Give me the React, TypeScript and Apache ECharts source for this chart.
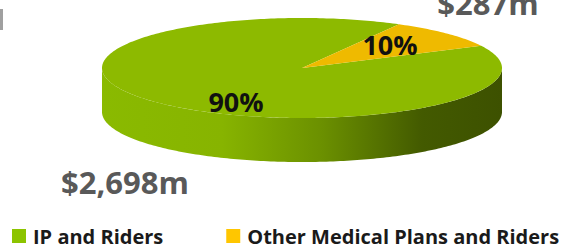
import React, { useEffect, useRef } from "react";
import * as echarts from "echarts";

// ---- data ----
const categories = ["IP and Riders", "Other Medical Plans and Riders"];
const values = [2698, 287];
const percentLabels = ["90%", "10%"];
const amountLabels = ["$2,698m", "$287m"];

// ---- styles / layout ----
const topColors = ["#8DBA00", "#EFBA00"];
const legendColors = ["#8CC400", "#FFC600"];
const CX = 302;
const CY = 68;
const RX = 200;
const RY = 50;
const DEPTH = 44;
const START_ANGLE = 61; // degrees, counter-clockwise
const percentPos = [
  [236, 101],
  [390, 44],
];
const amountPos = [
  [125, 182],
  [488, 3],
];
const FONT = "'Open Sans', 'DejaVu Sans', sans-serif";

function pt(a: number, dy = 0): number[] {
  const r = (a * Math.PI) / 180;
  return [CX + RX * Math.cos(r), CY - RY * Math.sin(r) + dy];
}

function arc(a0: number, a1: number, dy = 0): number[][] {
  const pts: number[][] = [];
  const n = Math.max(2, Math.ceil(Math.abs(a1 - a0) / 1));
  for (let k = 0; k <= n; k++) pts.push(pt(a0 + ((a1 - a0) * k) / n, dy));
  return pts;
}

const total = values.reduce((s, v) => s + v, 0);

function makeRenderItem(i: number) {
  return (params: any, api: any) => {
    const v = api.value(0);
    let before = 0;
    for (let k = 0; k < i; k++) before += values[k];
    const a0 = START_ANGLE + (before / total) * 360;
    const a1 = a0 + (v / total) * 360;
    const children: any[] = [];
    // side (front half only)
    for (const s of [180, 540]) {
      const lo = Math.max(a0, s);
      const hi = Math.min(a1, s + 180);
      if (hi > lo) {
        const pts = [...arc(lo, hi), ...arc(hi, lo, DEPTH)];
        children.push({
          type: "polygon",
          shape: { points: pts },
          style: {
            fill: new echarts.graphic.LinearGradient(0, 0, 1, 0, [
              { offset: 0, color: "#8ABA00" },
              { offset: 0.3, color: "#87B400" },
              { offset: 0.55, color: "#6B9000" },
              { offset: 0.8, color: "#435A00" },
              { offset: 1, color: "#3D5100" },
            ]),
          },
        });
      }
    }
    // top face
    children.push({
      type: "polygon",
      shape: { points: [[CX, CY], ...arc(a0, a1)] },
      style: { fill: topColors[i] },
    });
    // labels
    children.push({
      type: "text",
      x: percentPos[i][0],
      y: percentPos[i][1],
      style: {
        text: percentLabels[i],
        fill: "#111111",
        fontSize: 27,
        fontWeight: "bold",
        fontFamily: FONT,
        align: "center",
        verticalAlign: "middle",
      },
    });
    children.push({
      type: "text",
      x: amountPos[i][0],
      y: amountPos[i][1],
      style: {
        text: amountLabels[i],
        fill: "#595959",
        fontSize: 31,
        fontWeight: "bold",
        fontFamily: FONT,
        align: "center",
        verticalAlign: "middle",
      },
    });
    return { type: "group", children };
  };
}

export default function App() {
  const ref = useRef<HTMLDivElement>(null);
  useEffect(() => {
    if (!ref.current) return;
    const chart = echarts.init(ref.current, null, { renderer: "svg" });
    chart.setOption({
      animation: false,
      backgroundColor: "#ffffff",
      legend: {
        left: 12,
        top: 226,
        padding: 0,
        width: 563,
        icon: "rect",
        itemWidth: 14,
        itemHeight: 14,
        itemGap: 63,
        textStyle: {
          fontSize: 20,
          lineHeight: 20,
          fontWeight: "bold",
          fontFamily: FONT,
          color: "#1a1a1a",
          padding: [0, 0, 0, 2],
        },
        data: categories.map((c, i) => ({ name: c, itemStyle: { color: legendColors[i] } })),
      },
      graphic: [
        { type: "rect", shape: { x: 0, y: 9, width: 3, height: 21 }, style: { fill: "#a0a0a0" } },
      ],
      series: categories.map((c, i) => ({
        type: "custom",
        name: c,
        coordinateSystem: "none",
        itemStyle: { color: legendColors[i] },
        data: [[values[i]]],
        renderItem: makeRenderItem(i),
      })),
    });
    return () => chart.dispose();
  }, []);
  return (
    <div
      ref={ref}
      style={{ position: "fixed", left: 0, top: 0, width: 575, height: 249 }}
    />
  );
}
